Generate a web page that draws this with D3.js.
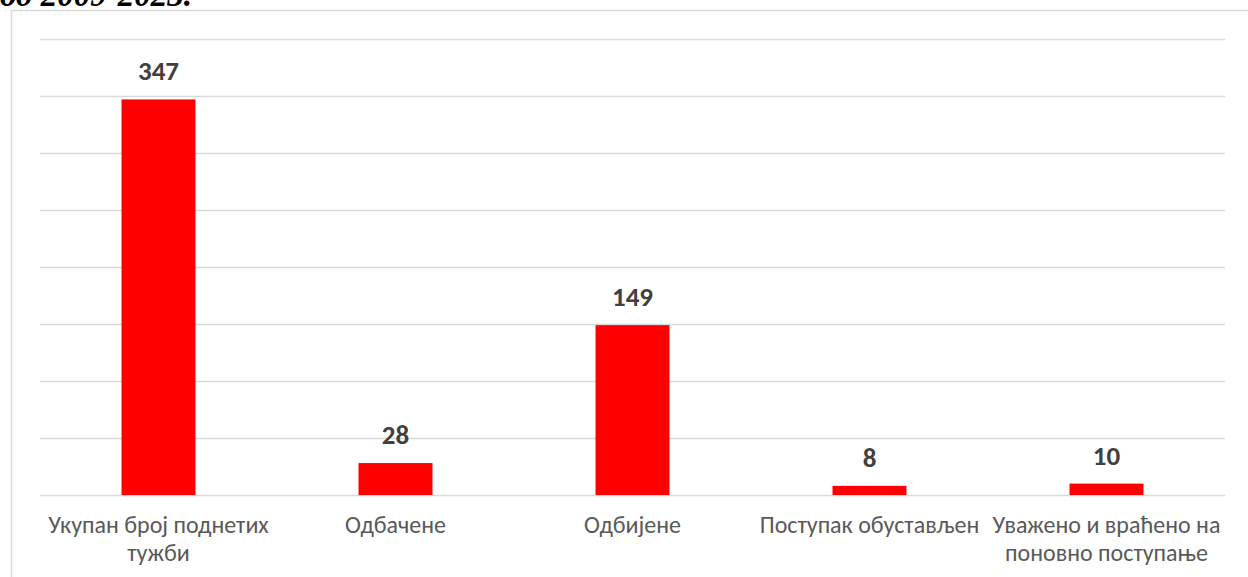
<!DOCTYPE html>
<html>
<head>
<meta charset="utf-8">
<script src="https://cdn.jsdelivr.net/npm/d3@7"></script>
<style>
  body { margin: 0; background: #fff; }
  svg { display: block; }
</style>
</head>
<body>
<svg id="chart" width="1248" height="577"></svg>
<script>
const categories = [
  ["Укупан број поднетих", "тужби"],
  ["Одбачене"],
  ["Одбијене"],
  ["Поступак обустављен"],
  ["Уважено и враћено на", "поновно поступање"],
];
const values = [347, 28, 149, 8, 10];
const yTicks = [0, 50, 100, 150, 200, 250, 300, 350, 400];
const titleText = "од 2009-2023.";

const svg = d3.select("#chart");
const width = 1248, height = 577;
const margin = { top: 39, right: 23, bottom: 82, left: 40 };

// chart frame (goes past the window at right and bottom)
svg.append("rect")
  .attr("x", 11.5).attr("y", 10.5)
  .attr("width", 1250).attr("height", 600)
  .attr("fill", "none")
  .attr("stroke", "#d9d9d9")
  .attr("stroke-width", 1.5);

// cut-off heading above the chart
svg.append("text")
  .attr("x", 0).attr("y", 6)
  .attr("font-family", "'Liberation Serif', serif")
  .attr("font-weight", "bold")
  .attr("font-style", "italic")
  .attr("font-size", 33)
  .attr("fill", "#000")
  .text(titleText);

const x = d3.scaleBand()
  .domain(d3.range(values.length))
  .range([margin.left, width - margin.right])
  .paddingInner(0.688)
  .paddingOuter(0.344);

const y = d3.scaleLinear()
  .domain([0, 400])
  .range([height - margin.bottom, margin.top]);

// gridlines
svg.append("g")
  .selectAll("line")
  .data(yTicks)
  .join("line")
  .attr("x1", margin.left)
  .attr("x2", width - margin.right)
  .attr("y1", d => Math.round(y(d)) + 0.5)
  .attr("y2", d => Math.round(y(d)) + 0.5)
  .attr("stroke", "#d9d9d9")
  .attr("stroke-width", 1.5);

// bars
svg.append("g")
  .selectAll("rect")
  .data(values)
  .join("rect")
  .attr("x", (d, i) => x(i))
  .attr("y", d => y(d))
  .attr("width", x.bandwidth())
  .attr("height", d => y(0) - y(d))
  .attr("fill", "#ff0000");

// value labels
svg.append("g")
  .selectAll("text")
  .data(values)
  .join("text")
  .attr("x", (d, i) => x(i) + x.bandwidth() / 2)
  .attr("y", d => y(d) - 19)
  .attr("text-anchor", "middle")
  .attr("font-family", "Carlito, Lato, sans-serif")
  .attr("font-weight", "bold")
  .attr("font-size", 27)
  .attr("fill", "#404040")
  .text(d => d);

// category labels
const catG = svg.append("g");
categories.forEach((lines, i) => {
  const t = catG.append("text")
    .attr("x", x(i) + x.bandwidth() / 2)
    .attr("y", 533)
    .attr("text-anchor", "middle")
    .attr("font-family", "Carlito, Lato, sans-serif")
    .attr("font-size", 24)
    .attr("fill", "#595959");
  lines.forEach((line, j) => {
    t.append("tspan")
      .attr("x", x(i) + x.bandwidth() / 2)
      .attr("dy", j === 0 ? 0 : 28)
      .text(line);
  });
});
</script>
</body>
</html>
